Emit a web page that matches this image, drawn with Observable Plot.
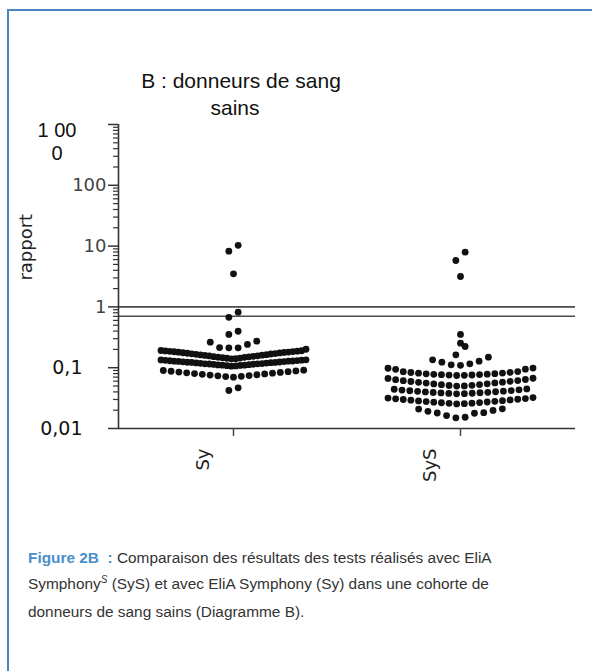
<!DOCTYPE html>
<html><head><meta charset="utf-8">
<script src="https://cdn.jsdelivr.net/npm/d3@7"></script>
<script src="https://cdn.jsdelivr.net/npm/@observablehq/plot@0.6"></script>
<style>
html,body{margin:0;padding:0;background:#fff;}
#wrap{position:relative;width:592px;height:671px;overflow:hidden;background:#fff;}
#border{position:absolute;left:7px;top:9px;width:700px;height:800px;border-top:2px solid #4a86c3;border-left:2px solid #4a86c3;}
#chart{position:absolute;left:0;top:0;}
.t{position:absolute;font-family:"Liberation Sans",Arial,sans-serif;font-size:21px;line-height:24px;color:#111;white-space:nowrap;transform:translateX(-50%);}
#caption{position:absolute;left:28px;top:545px;font-family:"Liberation Sans",Arial,sans-serif;font-size:15.4px;line-height:26px;color:#333;white-space:nowrap;}
#caption .fig{color:#4a8fcb;font-weight:bold;}
#caption sup{font-size:10px;font-style:italic;vertical-align:baseline;position:relative;top:-6px;}
</style></head>
<body><div id="wrap">
<div id="border"></div>
<div id="chart"></div>
<div class="t" style="left:241px;top:68.7px">B : donneurs de sang</div>
<div class="t" style="left:235px;top:96px">sains</div>
<div id="caption"><span class="fig">Figure 2B&nbsp; :</span> Comparaison des résultats des tests réalisés avec EliA<br>Symphony<sup>S</sup> (SyS) et avec EliA Symphony (Sy) dans une cohorte de<br>donneurs de sang sains (Diagramme B).</div>
</div>
<script>
// ---- data ----
const categories = ["Sy", "SyS"];
const syValues = [
  10.3, 8.24, 3.5, 0.82, 0.674, 0.398, 0.352,
  0.212, 0.212, 0.214, 0.241, 0.263, 0.273,
  0.140, 0.141, 0.143, 0.144, 0.146, 0.148, 0.149, 0.151, 0.152, 0.154, 0.156, 0.157, 0.159, 0.161, 0.162, 0.164, 0.166, 0.168, 0.169, 0.171, 0.173, 0.175, 0.176, 0.178, 0.180, 0.181, 0.183, 0.184, 0.186, 0.187, 0.189, 0.190, 0.192, 0.201,
  0.106, 0.107, 0.108, 0.109, 0.110, 0.110, 0.111, 0.112, 0.113, 0.114, 0.115, 0.116, 0.116, 0.117, 0.118, 0.119, 0.120, 0.121, 0.122, 0.122, 0.123, 0.124, 0.125, 0.126, 0.127, 0.128, 0.128, 0.129, 0.130, 0.131, 0.132, 0.133, 0.134, 0.135,
  0.0698, 0.0715, 0.0722, 0.0735, 0.0742, 0.0755, 0.0765, 0.0778, 0.0790, 0.0800, 0.0812, 0.0825, 0.0835, 0.0848, 0.0860, 0.0875, 0.0885, 0.0900, 0.0910,
  0.0467, 0.0422
];
const sysValues = [
  7.94, 5.80, 3.16, 0.352, 0.253, 0.223, 0.163,
  0.1095, 0.1116, 0.1159, 0.1231, 0.1279, 0.1349, 0.1489,
  0.0744, 0.0748, 0.0755, 0.0758, 0.0767, 0.0770, 0.0779, 0.0782, 0.0794, 0.0797, 0.0812, 0.0815, 0.0834, 0.0838, 0.0859, 0.0863, 0.0941, 0.0945, 0.0980, 0.0985,
  0.0498, 0.0501, 0.0510, 0.0513, 0.0525, 0.0528, 0.0541, 0.0544, 0.0558, 0.0561, 0.0575, 0.0578, 0.0593, 0.0596, 0.0611, 0.0615, 0.0635, 0.0640, 0.0665, 0.0670,
  0.0372, 0.0374, 0.0378, 0.0380, 0.0384, 0.0387, 0.0391, 0.0394, 0.0399, 0.0402, 0.0408, 0.0411, 0.0418, 0.0421, 0.0429, 0.0433, 0.0442, 0.0447,
  0.0254, 0.0256, 0.0259, 0.0261, 0.0265, 0.0267, 0.0271, 0.0273, 0.0277, 0.0280, 0.0284, 0.0287, 0.0292, 0.0295, 0.0300, 0.0303, 0.0308, 0.0311, 0.0317, 0.0322,
  0.0150, 0.0153, 0.0163, 0.0178, 0.0180, 0.0182, 0.0192, 0.0198, 0.0209, 0.0211
];
const yMajorTicks = [0.01, 0.1, 1, 10, 100, 1000];
const yTickLabels = ["0,01", "0,1", "1", "10", "100", "1 00\n0"];
const thresholds = [1, 0.7];
const yLabel = "rapport";

// ---- layout ----
const W = 592, H = 500, ML = 118, MR = 17, MT = 124, MB = 72;
const xDomain = [0.4934, 2.5066];
const yDomain = [0.01, 1000];
const pxPerUnit = (W - ML - MR) / (xDomain[1] - xDomain[0]);
const decadePx = (H - MT - MB) / Math.log10(yDomain[1] / yDomain[0]);

// Prism-like column scatter: bin by height, lowest values at the centre
function swarm(values, center) {
  const h = 10.4 / decadePx;
  const lmin = Math.log10(d3.min(values));
  const bins = d3.group(values, v => Math.floor((Math.log10(v) - lmin) / h + 1e-9));
  const out = [];
  for (const [, vs] of bins) {
    const s = vs.slice().sort((a, b) => a - b);
    const n = s.length;
    const sp = Math.min(n > 12 ? 7.8 : 9.3, 145 / Math.max(1, n - 1));
    const slots = d3.range(n).map(i => i - (n - 1) / 2)
      .sort((a, b) => Math.abs(a) - Math.abs(b) || a - b);
    s.forEach((v, i) => out.push({x: center + slots[i] * sp / pxPerUnit, v, cat: categories[center - 1]}));
  }
  return out;
}
const points = [...swarm(syValues, 1), ...swarm(sysValues, 2)];

const minorTicks = [];
for (let e = -2; e < 3; e++) for (let m = 2; m < 10; m++) minorTicks.push(m * Math.pow(10, e));
const labelOf = v => yTickLabels[yMajorTicks.indexOf(v)];

const chart = Plot.plot({
  width: W, height: H,
  marginLeft: ML, marginRight: MR, marginTop: MT, marginBottom: MB,
  style: {background: "transparent", overflow: "visible"},
  x: {domain: xDomain, label: null},
  y: {type: "log", domain: yDomain, label: null},
  marks: [
    Plot.ruleY(thresholds, {stroke: "#4a4a4a", strokeWidth: 1.6}),
    Plot.axisY(minorTicks, {tickSize: 5, tickFormat: () => "", stroke: "#333", strokeWidth: 1.2}),
    Plot.axisY(yMajorTicks, {tickSize: 10, tickFormat: () => "", stroke: "#333", strokeWidth: 1.5}),
    Plot.axisY([1, 10, 100], {tickSize: 0, tickPadding: 12, tickFormat: labelOf, fontSize: 18, fontFamily: "DejaVu Sans", fill: "#444"}),
    Plot.axisY([0.01, 0.1], {tickSize: 0, tickPadding: 36, tickFormat: labelOf, fontSize: 19, fontFamily: "DejaVu Sans", fill: "#111"}),
    Plot.text([1000], {y: d => d, text: labelOf, frameAnchor: "left", dx: -61.5, dy: -4, textAnchor: "middle", lineAnchor: "top", lineHeight: 1.15, fontSize: 20, fontFamily: "Liberation Sans", fill: "#111"}),
    Plot.text([yLabel], {text: d => d, frameAnchor: "left", textAnchor: "middle", rotate: -90, dx: -92, dy: -29.3, fontSize: 18, fontFamily: "DejaVu Sans", fill: "#222"}),
    Plot.ruleX([xDomain[0]], {stroke: "#333", strokeWidth: 1.6}),
    Plot.ruleY([yDomain[0]], {stroke: "#333", strokeWidth: 1.6}),
    Plot.axisX([1, 2], {tickSize: 8, tickFormat: () => "", stroke: "#444", strokeWidth: 1.5}),
    Plot.axisX([1, 2], {tickSize: 0, tickPadding: 20, tickRotate: -90, dx: -30, tickFormat: d => categories[d - 1], fontSize: 18, fontFamily: "DejaVu Sans", fill: "#222"}),
    Plot.dot(points, {x: "x", y: "v", r: 3.4, fill: "#111"})
  ]
});
document.getElementById("chart").appendChild(chart);
</script>
</body></html>
